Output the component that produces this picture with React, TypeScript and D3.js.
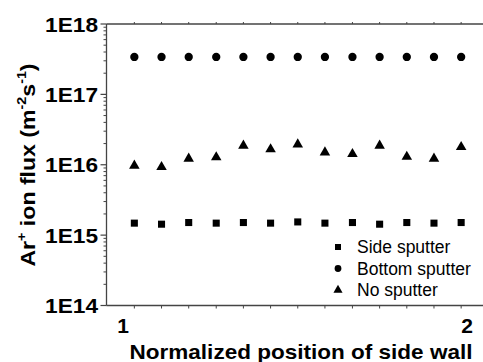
import React from "react";
import * as d3 from "d3";

// normalized position of each sample along the side wall
const positions = [1.033, 1.112, 1.191, 1.271, 1.35, 1.429, 1.508, 1.587, 1.667, 1.746, 1.825, 1.904, 1.983];
const sideSputter = [1.48e15, 1.43e15, 1.51e15, 1.48e15, 1.51e15, 1.48e15, 1.54e15, 1.48e15, 1.51e15, 1.43e15, 1.51e15, 1.48e15, 1.51e15];
const bottomSputter = [3.4e17, 3.4e17, 3.4e17, 3.4e17, 3.4e17, 3.4e17, 3.4e17, 3.4e17, 3.4e17, 3.4e17, 3.4e17, 3.4e17, 3.4e17];
const noSputter = [9.7e15, 9.3e15, 1.22e16, 1.28e16, 1.87e16, 1.66e16, 1.95e16, 1.5e16, 1.42e16, 1.87e16, 1.3e16, 1.22e16, 1.79e16];
const yTicks = [1e14, 1e15, 1e16, 1e17, 1e18];
const yTickLabels = ["1E14", "1E15", "1E16", "1E17", "1E18"];
const xTickLabels = [1, 2];
const legendNames = ["Side sputter", "Bottom sputter", "No sputter"];

const W = 483, H = 362;
const left = 106.5, top = 24, bottom = 305.5;
const font = "'Liberation Sans', Arial, sans-serif";
const axisColor = "#444";

const x = d3.scaleLinear().domain([1, 2]).range([123, 467]);
const y = d3.scaleLog().domain([1e14, 1e18]).range([bottom, top]);

const sym = {
  square: d3.symbol().type(d3.symbolSquare),
  circle: d3.symbol().type(d3.symbolCircle),
  triangle: d3.symbol().type(d3.symbolTriangle),
};

const Marker = ({ kind, cx, cy, size }: { kind: "square" | "circle" | "triangle"; cx: number; cy: number; size: number }) => (
  <path d={sym[kind].size(size)() as string} transform={`translate(${cx},${cy})`} fill="#000" />
);

export default function App() {
  // minor log ticks 2..9 in every decade
  const minor: number[] = [];
  for (let e = 14; e < 18; e++) for (let m = 2; m <= 9; m++) minor.push(m * Math.pow(10, e));

  return (
    <svg width={W} height={H} style={{ position: "absolute", left: 0, top: 0 }} fontFamily={font}>
      <rect width={W} height={H} fill="#fff" />
      {/* axes lines */}
      <line x1={left} x2={left} y1={top} y2={bottom} stroke={axisColor} strokeWidth={1.3} />
      <line x1={left} x2={W} y1={bottom} y2={bottom} stroke={axisColor} strokeWidth={1.3} />
      <line x1={left} x2={W} y1={top} y2={top} stroke={axisColor} strokeWidth={1.3} />

      {/* y ticks */}
      {yTicks.map((t, i) => (
        <g key={"yt" + i}>
          <line x1={left - 6} x2={left} y1={y(t)} y2={y(t)} stroke={axisColor} strokeWidth={1.2} />
          <text transform={`translate(98,${y(t)}) scale(1.08,1)`} dy="0.36em" textAnchor="end" fontSize={21} fontWeight={700}>
            {yTickLabels[i]}
          </text>
        </g>
      ))}
      {minor.map((t, i) => (
        <line key={"ym" + i} x1={left - 3} x2={left} y1={y(t)} y2={y(t)} stroke={axisColor} strokeWidth={1} />
      ))}

      {/* x ticks at sample positions */}
      {positions.map((p, i) => (
        <g key={"xt" + i}>
          <line x1={x(p)} x2={x(p)} y1={bottom} y2={bottom + 3} stroke={axisColor} strokeWidth={1} />
          <line x1={x(p)} x2={x(p)} y1={top} y2={top - 2} stroke={axisColor} strokeWidth={1} />
        </g>
      ))}
      {xTickLabels.map((t) => (
        <text key={"xl" + t} x={x(t)} y={333} textAnchor="middle" fontSize={21} fontWeight={700}>
          {t}
        </text>
      ))}

      {/* data */}
      {positions.map((p, i) => (
        <g key={"d" + i}>
          <Marker kind="square" cx={x(p)} cy={y(sideSputter[i])} size={50} />
          <Marker kind="circle" cx={x(p)} cy={y(bottomSputter[i])} size={54} />
          <Marker kind="triangle" cx={x(p)} cy={y(noSputter[i])} size={48} />
        </g>
      ))}

      {/* legend */}
      {legendNames.map((n, i) => (
        <g key={"lg" + i} transform={`translate(0,${247 + i * 21.5})`}>
          <Marker kind={(["square", "circle", "triangle"] as const)[i]} cx={338} cy={0} size={36} />
          <text x={357} y={0} dy="0.36em" fontSize={17.5}>
            {n}
          </text>
        </g>
      ))}

      {/* axis titles */}
      <text x={301} y={359} textAnchor="middle" fontSize={20.5} fontWeight={700} textLength={343} lengthAdjust="spacingAndGlyphs">
        Normalized position of side wall
      </text>
      <text transform="translate(35,165) rotate(-90) scale(1.1,1)" textAnchor="middle" fontSize={21} fontWeight={700}>
        Ar<tspan dy={-9} fontSize={13}>+</tspan>
        <tspan dy={9}> ion flux (m</tspan>
        <tspan dy={-9} fontSize={13}>-2</tspan>
        <tspan dy={9}>s</tspan>
        <tspan dy={-9} fontSize={13}>-1</tspan>
        <tspan dy={9}>)</tspan>
      </text>
    </svg>
  );
}
